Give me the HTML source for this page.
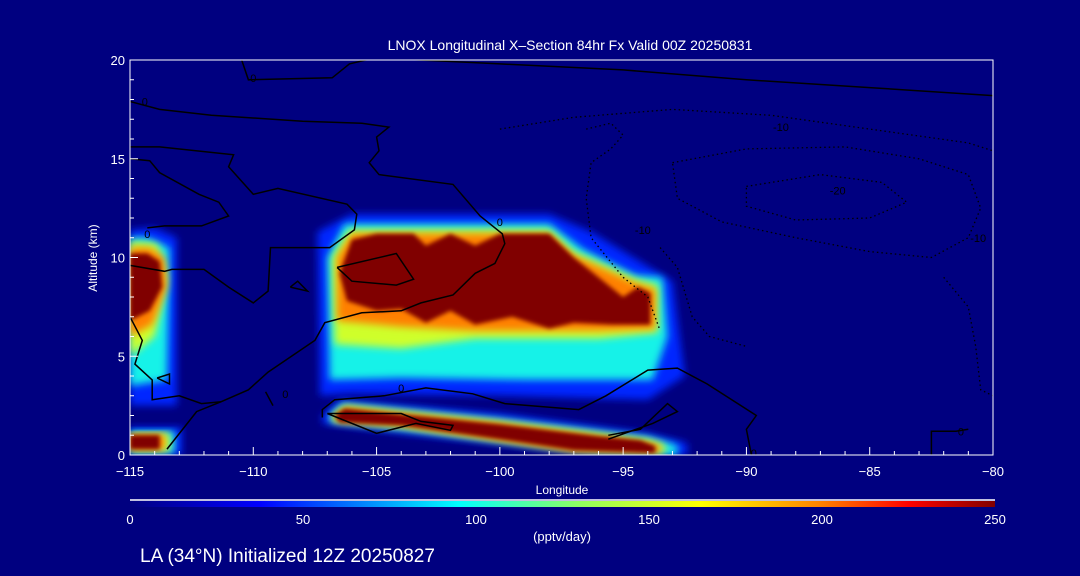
<!DOCTYPE html>
<html><head><meta charset="utf-8"><style>
html,body{margin:0;padding:0;background:#000080;}
svg{display:block;font-family:"Liberation Sans",sans-serif;}
</style></head><body>
<svg id="chart" width="1080" height="576" viewBox="0 0 1080 576">
<defs>
 <filter id="b5" x="-20%" y="-20%" width="140%" height="140%"><feGaussianBlur stdDeviation="4"/></filter>
 <filter id="b2" x="-20%" y="-20%" width="140%" height="140%"><feGaussianBlur stdDeviation="2"/></filter>
 <clipPath id="plotclip"><rect x="130" y="60" width="863" height="395"/></clipPath>
 <linearGradient id="cbar" x1="0" x2="1" y1="0" y2="0">
  <stop offset="0" stop-color="#000080"/><stop offset="0.15" stop-color="#0000ff"/>
  <stop offset="0.38" stop-color="#00ffff"/><stop offset="0.52" stop-color="#90ff60"/>
  <stop offset="0.66" stop-color="#ffff00"/><stop offset="0.8" stop-color="#ff8000"/>
  <stop offset="0.9" stop-color="#ff0000"/><stop offset="1" stop-color="#800000"/>
 </linearGradient>
</defs>
<rect x="0" y="0" width="1080" height="576" fill="#000080"/>
<g id="fields" clip-path="url(#plotclip)"></g>
<g id="contours" clip-path="url(#plotclip)" fill="none" stroke="#000" stroke-width="1.5"></g>
<rect x="130" y="60" width="863" height="395" fill="none" stroke="#fff" stroke-width="1"/>
<g id="axes"></g>
<text x="570" y="50" fill="#fff" font-size="14" text-anchor="middle">LNOX Longitudinal X–Section 84hr  Fx Valid 00Z 20250831</text>
<text x="97" y="258" fill="#fff" font-size="12" text-anchor="middle" transform="rotate(-90 97 258)">Altitude (km)</text>
<text x="562" y="494" fill="#fff" font-size="12" text-anchor="middle">Longitude</text>
<line x1="130" y1="500" x2="995" y2="500" stroke="#fff" stroke-width="1.5"/>
<rect x="130" y="501" width="865" height="6" fill="url(#cbar)"/>
<g id="cbticks"></g>
<text x="562" y="541" fill="#fff" font-size="13" text-anchor="middle">(pptv/day)</text>
<text x="140" y="562" fill="#fff" font-size="19">LA (34°N) Initialized 12Z 20250827</text>
</svg>
<script>
const xTicks=[-115,-110,-105,-100,-95,-90,-85,-80];
const yTicks=[0,5,10,15,20];
const cbLabels=[0,50,100,150,200,250];
const levelValues=[40,100,150,200,250];
const mainBlob=[
 [[-107.3,3],[-107.4,11.3],[-106,12.2],[-98,12.2],[-96.3,11.3],[-93,8.8],[-92.5,4],[-94,2.8],[-100,3.0],[-106,3.1]],
 [[-106.9,3.8],[-107,10],[-106.3,11.7],[-98,11.7],[-96.6,10.4],[-94.5,9.1],[-93.4,9],[-93.2,6],[-93.8,3.8],[-99,3.8],[-104,3.9]],
 [[-106.7,5.6],[-106.8,10],[-106.1,11.4],[-98,11.4],[-97,10.3],[-94.5,8.9],[-93.6,8.6],[-93.6,6.2],[-96,5.9],[-101,5.9],[-104,5.4]],
 [[-106.6,6.8],[-106.6,10],[-106,11.2],[-98,11.2],[-97,10.1],[-94.5,8.7],[-93.7,8.4],[-93.7,6.4],[-96,6.3],[-101,6.3],[-104,6.5]],
 [[-106.5,9.2],[-106,10.9],[-105,11.2],[-103.5,11.2],[-103,10.6],[-102,11.2],[-101,10.6],[-100,11.2],[-98,11.2],[-97,10],[-96,9],[-95,8],[-94.4,8.5],[-93.9,8.2],[-93.9,6.6],[-95.5,6.6],[-97,6.7],[-98,6.4],[-99.5,7.0],[-101,6.6],[-102,7.3],[-103,6.7],[-104,7.4],[-105,7.3],[-106.2,7.8]]
];
const leftBlob=[
 [[-115,2.5],[-113.1,2.5],[-113.1,11],[-114,11.5],[-115,11.4]],
 [[-115,3.5],[-113.5,3.8],[-113.4,10.5],[-114.3,11],[-115,11]],
 [[-115,5],[-114,6],[-113.5,9],[-113.9,10.7],[-115,10.8]],
 [[-115,6],[-114.1,6.6],[-113.5,8.5],[-113.6,10],[-114.2,10.5],[-115,10.5]],
 [[-115,6.8],[-114.2,7.3],[-113.7,8.5],[-113.8,9.8],[-114.3,10.2],[-115,10.2]]
];
const stripBlob=[
 [[-107.2,2.0],[-106.5,2.8],[-100,2.1],[-94,1.1],[-92.4,0.6],[-92.4,0],[-96,0],[-104,1.1],[-107.2,1.6]],
 [[-106.9,2.0],[-106.4,2.6],[-100,1.8],[-94,0.9],[-92.8,0.5],[-92.8,0],[-96,0.1],[-104,1.3],[-106.9,1.7]],
 [[-106.8,2.0],[-106.3,2.5],[-100,1.7],[-94,0.8],[-93.3,0.5],[-93.3,0.1],[-97,0.2],[-104,1.4],[-106.8,1.7]],
 [[-106.7,2.0],[-106.3,2.4],[-100,1.6],[-95,0.8],[-93.5,0.5],[-93.5,0.1],[-97,0.2],[-104,1.5],[-106.6,1.7]],
 [[-106.7,2.0],[-106.3,2.35],[-104,2.05],[-100,1.55],[-96,0.95],[-94.3,0.75],[-93.7,0.45],[-93.7,0.1],[-97,0.25],[-100,0.8],[-104,1.5],[-106.5,1.65]]
];
const cornerBlob=[
 [[-115,0],[-112.9,0],[-112.9,1.4],[-115,1.4]],
 [[-115,0.1],[-113.2,0.1],[-113.2,1.2],[-115,1.2]],
 [[-115,0.2],[-113.4,0.2],[-113.4,1.1],[-115,1.1]],
 [[-115,0.25],[-113.6,0.25],[-113.6,1.05],[-115,1.05]],
 [[-115,0.3],[-113.8,0.3],[-113.8,1.0],[-115,1.0]]
];
const solidContours=[
 [[-110.5,20.1],[-110.2,19],[-106.8,19.1],[-106.1,19.8],[-105.1,20.1]],
 [[-104.9,20.1],[-100,19.8],[-95,19.5],[-90,19],[-85,18.6],[-80,18.2]],
 [[-115,17.9],[-113.8,17.5],[-111.7,17.2],[-108,16.9],[-105.6,16.8],[-104.5,16.6],[-105,16.1],[-104.9,15.4],[-105.3,14.8],[-104.9,14.2],[-101.9,13.7],[-100.8,12.1],[-99.9,11.2],[-99.8,10.7],[-100.2,9.7],[-101,9.2],[-101.9,8.1],[-103.2,7.7],[-104,7.3],[-105.6,7.2],[-107.1,6.7],[-107.5,5.8],[-109.4,4.2],[-110.2,3.3],[-111.3,2.7],[-112.3,2.2],[-113.5,0.3]],
 [[-115,15.6],[-113.8,15.6],[-110.8,15.2],[-111,14.6],[-110,13.2],[-109,13.5],[-106.2,12.7],[-105.8,12.2],[-105.9,11.4],[-106.9,10.5],[-109.3,10.5],[-109.4,8.3],[-110,7.7],[-111,8.5],[-112,9.4],[-113.3,9.4],[-113.6,9.3],[-115,9.6]],
 [[-115,15],[-114.2,14.9],[-113.8,14.3],[-112.2,13.2],[-111.4,12.8],[-111,12.1],[-112.1,11.6],[-113.6,11.6],[-114.3,11.5]],
 [[-115,7],[-114.5,5.8],[-114.8,4.6],[-114.1,3.8],[-114.1,2.8],[-113,3],[-112.1,2.6],[-111.3,2.7]],
 [[-107.2,1.9],[-107.2,2.3],[-106.7,2.8],[-104.7,3.0],[-103,3.4],[-101.1,3.1],[-99.8,2.6],[-96.8,2.3],[-95.7,3],[-94,4.3],[-92.8,4.4],[-91.6,3.6],[-89.6,2.0],[-90,1.3],[-89.8,0]],
 [[-106.6,9.5],[-104.2,10.2],[-103.5,8.9],[-104.2,8.6],[-106,8.8],[-106.6,9.5]],
 [[-108.5,8.5],[-108.2,8.8],[-107.8,8.3],[-108.5,8.5]],
 [[-107,2.1],[-104,2.1],[-103.2,1.7],[-101.9,1.5],[-102,1.25],[-103.4,1.6],[-105,1.1],[-107,2.1]],
 [[-113.9,3.9],[-113.4,4.1],[-113.4,3.6],[-113.9,3.9]],
 [[-95.6,1.0],[-94.3,1.3],[-93.2,2.6],[-92.8,2.2],[-93.8,1.6],[-95.6,0.8]],
 [[-82.5,0],[-82.5,1.2],[-81.5,1.2],[-81,1.3]],
 [[-109.5,3.2],[-109.2,2.5]]
];
const dottedContours=[
 [[-100,16.5],[-97,17.1],[-93,17.5],[-89,17.2],[-85,16.5],[-81,15.8],[-80,15.4]],
 [[-96.5,16.5],[-95.5,16.8],[-95,16.2],[-95.5,15.5],[-96.3,14.8],[-96.5,13],[-96.3,11],[-95,9],[-94,8],[-93.5,6.3]],
 [[-93,14.8],[-90,15.5],[-86,15.6],[-83,15],[-81,14.2],[-80.5,12.5],[-81,11],[-82.5,10],[-85,10.3],[-88,11],[-91,11.8],[-92.8,13],[-93,14.8]],
 [[-90,13.6],[-87,14.2],[-84.5,13.8],[-83.5,12.8],[-85,12],[-88,11.9],[-90,12.6],[-90,13.6]],
 [[-93.5,10.5],[-92.8,9.5],[-92.2,7],[-91.5,6],[-90,5.5]],
 [[-82,9],[-81,7.5],[-80.7,5.5],[-80.5,3.3],[-80,3]]
];
const contourLabels=[["0",-110,19.1],["0",-114.4,17.9],["0",-114.3,11.2],["0",-100,11.8],["0",-108.7,3.1],["0",-104,3.4],["-10",-88.6,16.6],["-20",-86.3,13.4],["-10",-94.2,11.4],["-10",-80.6,11],["0",-89.7,0.1],["0",-81.3,1.2]];

const X0=130,X1=993,Y0=455,Y1=60;
const xs=lon=>X0+(lon+115)/35*(X1-X0);
const ys=alt=>Y0-alt/20*(Y0-Y1);
const NS="http://www.w3.org/2000/svg";
function colorFor(v){
 const st=[[0,[0,0,128]],[40,[0,40,255]],[95,[0,240,255]],[130,[144,255,96]],[165,[255,255,0]],[200,[255,128,0]],[225,[255,0,0]],[250,[128,0,0]]];
 for(let i=1;i<st.length;i++){if(v<=st[i][0]){const a=st[i-1],b=st[i],t=(v-a[0])/(b[0]-a[0]);
  return "rgb("+a[1].map((c,k)=>Math.round(c+(b[1][k]-c)*t)).join(",")+")";}}
 return "rgb(128,0,0)";
}
const ptsStr=p=>p.map(q=>xs(q[0]).toFixed(1)+","+ys(q[1]).toFixed(1)).join(" ");
const fields=document.getElementById("fields");
const blobs=[mainBlob,leftBlob,stripBlob,cornerBlob];
const blobNames=["main-storm-core","west-storm-core","low-level-strip","surface-corner"];
for(let lv=0;lv<levelValues.length;lv++){
 blobs.forEach((b,bi)=>{
  const p=document.createElementNS(NS,"polygon");
  p.setAttribute("points",ptsStr(b[lv]));
  p.setAttribute("fill",colorFor(levelValues[lv]));
  p.setAttribute("filter",lv===4?"url(#b2)":"url(#b5)");
  
  
  fields.appendChild(p);
 });
}
const cg=document.getElementById("contours");
solidContours.forEach(c=>{const l=document.createElementNS(NS,"polyline");l.setAttribute("points",ptsStr(c));
 
 
 cg.appendChild(l);});
dottedContours.forEach(c=>{const l=document.createElementNS(NS,"polyline");l.setAttribute("points",ptsStr(c));
 l.setAttribute("stroke-dasharray","1.5 3");l.setAttribute("stroke-width","1.3");
 
 
 cg.appendChild(l);});
contourLabels.forEach(c=>{const t=document.createElementNS(NS,"text");t.setAttribute("x",xs(c[1]));t.setAttribute("y",ys(c[2])+4);
 t.setAttribute("font-size","11");t.setAttribute("fill","#000");t.setAttribute("stroke","none");t.setAttribute("text-anchor","middle");t.textContent=c[0];
 
 
 cg.appendChild(t);});
const ax=document.getElementById("axes");
function line(x1,y1,x2,y2,n){const l=document.createElementNS(NS,"line");l.setAttribute("x1",x1);l.setAttribute("y1",y1);l.setAttribute("x2",x2);l.setAttribute("y2",y2);l.setAttribute("stroke","#fff");l.setAttribute("stroke-width","1");
 
 
 ax.appendChild(l);}
function txt(x,y,s,anchor,n,size){const t=document.createElementNS(NS,"text");t.setAttribute("x",x);t.setAttribute("y",y);t.setAttribute("fill","#fff");t.setAttribute("font-size",size||13);t.setAttribute("text-anchor",anchor);t.textContent=s;
 
 
 return t;}
for(let lon=-115;lon<=-80;lon++){const maj=lon%5===0;line(xs(lon),Y0,xs(lon),Y0-(maj?8:4),maj?"x-major-tick":"x-minor-tick");}
for(let a=0;a<=20;a++){const maj=a%5===0;line(X0,ys(a),X0+(maj?8:4),ys(a),maj?"y-major-tick":"y-minor-tick");}
xTicks.forEach(v=>ax.appendChild(txt(xs(v),476,String(v).replace("-","−"),"middle","x-tick-label")));
yTicks.forEach(v=>ax.appendChild(txt(125,ys(v)+5,String(v),"end","y-tick-label")));
const cb=document.getElementById("cbticks");
cbLabels.forEach(v=>cb.appendChild(txt(130+v/250*865,524,String(v),"middle","colorbar-tick-label")));
</script>
</body></html>
